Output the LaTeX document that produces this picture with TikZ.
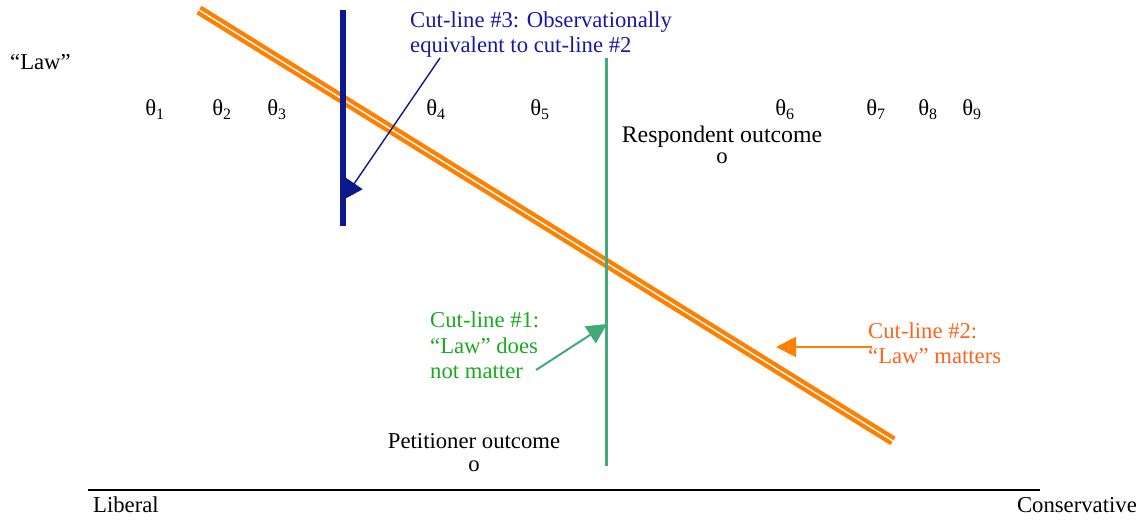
\documentclass[tikz,border=0pt]{standalone}
\usepackage{fontspec}
\setmainfont{Liberation Serif}
\usetikzlibrary{arrows.meta}
\definecolor{navy}{RGB}{10,25,140}
\definecolor{bluetext}{RGB}{25,25,165}
\definecolor{greenline}{RGB}{65,170,120}
\definecolor{greentext}{RGB}{25,170,30}
\definecolor{orangeline}{RGB}{255,128,0}
\definecolor{orangetext}{RGB}{255,100,30}
\begin{document}
\begin{tikzpicture}[x=1pt,y=-1pt,
  lbl/.style={inner sep=0pt,anchor=base west,font=\fontsize{22.7}{25}\selectfont},
  th/.style={inner sep=0pt,anchor=base,font=\fontsize{22.7}{25}\selectfont},
  tip/.style={-{Triangle[length=20pt,width=20pt]}}]
\useasboundingbox (0,0) rectangle (1145,521);
% axis
\coordinate (axL) at (88,490);
\coordinate (axR) at (1040,490);
\draw[line width=2pt] (axL) -- (axR);
\node[lbl] (lib) at (93,512) {Liberal};
\node[lbl,anchor=base east] (con) at (1137,512) {Conservative};
\node[lbl] (law) at (10,70) {“Law”};
% thetas
\node[th] (t1) at (155,116) {θ\textsubscript{1}};
\node[th] (t2) at (222,116) {θ\textsubscript{2}};
\node[th] (t3) at (277,116) {θ\textsubscript{3}};
\node[th] (t4) at (436,116) {θ\textsubscript{4}};
\node[th] (t5) at (540,116) {θ\textsubscript{5}};
\node[th] (t6) at (785,116) {θ\textsubscript{6}};
\node[th] (t7) at (876,116) {θ\textsubscript{7}};
\node[th] (t8) at (928,116) {θ\textsubscript{8}};
\node[th] (t9) at (972,116) {θ\textsubscript{9}};
% outcomes
\node[th,font=\fontsize{23.8}{26}\selectfont] (resp) at (722,143) {Respondent outcome};
\node[th] (respo) at (722,164) {o};
\node[th] (pet) at (474,448) {Petitioner outcome};
\node[th] (peto) at (474,471) {o};
% orange cut-line #2 (double)
\coordinate (oA) at (199,10);
\coordinate (oB) at (893,441);
\draw[draw=orangeline,double=white,line width=4.2pt,double distance=1.4pt] (oA) -- (oB);
% green cut-line #1
\coordinate (gA) at (606,58);
\coordinate (gB) at (606,466);
\draw[greenline,line width=3pt] (gA) -- (gB);
% blue arrow then blue cut-line #3
\node[lbl,text=bluetext] (c3a) at (410,28) {Cut-line \#3: Observationally};
\node[lbl,text=bluetext] (c3b) at (410,53) {equivalent to cut-line \#2};
\coordinate (bS) at (440,58);
\coordinate (bT) at (343,200);
\draw[navy,line width=1.4pt,tip] (bS) -- (bT);
\coordinate (bA) at (343,10);
\coordinate (bB) at (343,226);
\draw[navy,line width=6pt] (bA) -- (bB);
% green label and arrow
\node[lbl,text=greentext] (c1a) at (430,327) {Cut-line \#1:};
\node[lbl,text=greentext] (c1b) at (430,353) {“Law” does};
\node[lbl,text=greentext] (c1c) at (430,378) {not matter};
\coordinate (gS) at (536,370);
\coordinate (gT) at (607,324);
\draw[greenline,line width=2pt,tip] (gS) -- (gT);
% orange label and arrow
\node[lbl,text=orangetext] (c2a) at (868,338) {Cut-line \#2:};
\node[lbl,text=orangetext] (c2b) at (868,363) {“Law” matters};
\coordinate (oS) at (872,347);
\coordinate (oT) at (776,347);
\draw[orangeline,line width=2pt,tip] (oS) -- (oT);
\end{tikzpicture}
\end{document}
